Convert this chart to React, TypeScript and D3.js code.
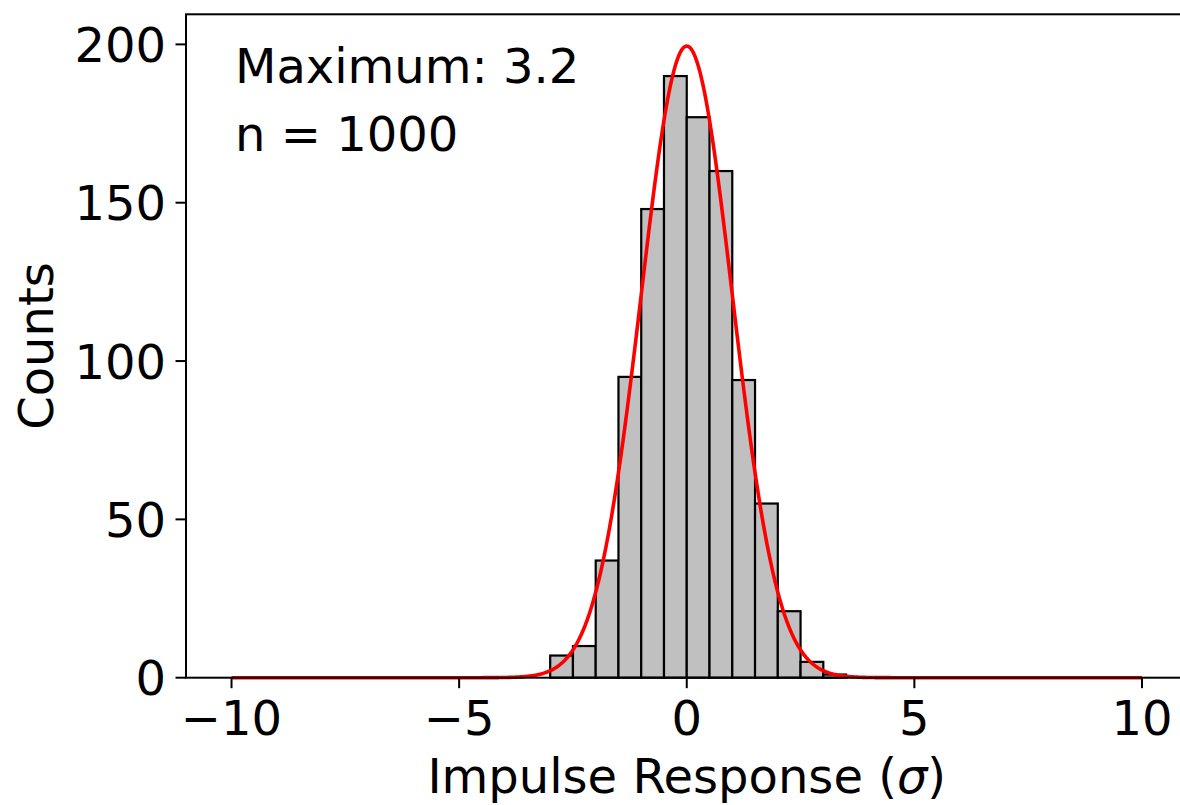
import React from "react";
import * as d3 from "d3";

// Histogram data (bin edges start at -3, width 0.5)
const binStart = -3;
const binWidth = 0.5;
const counts = [7, 10, 37, 95, 148, 190, 177, 160, 94, 55, 21, 5, 1];

// Gaussian fit parameters
const fitMean = 0;
const fitSigma = 1;
const nSamples = 1000;
const maximumValue = 3.2;
const curveRange = [-10, 10];

const xTicks = [-10, -5, 0, 5, 10];
const yTicks = [0, 50, 100, 150, 200];

const W = 1180;
const H = 805;
const FONT = "'DejaVu Sans', sans-serif";
const FS = 48;

export default function App() {
  const x = d3.scaleLinear().domain([-11, 11]).range([186, 1187.5]);
  const y = d3.scaleLinear().domain([0, 209.5]).range([677.7, 14.3]);

  const amp = (nSamples * binWidth) / (fitSigma * Math.sqrt(2 * Math.PI));
  const xs = d3.range(0, 1001).map((i) => curveRange[0] + ((curveRange[1] - curveRange[0]) * i) / 1000);
  const curvePts: [number, number][] = xs.map((v) => [
    v,
    amp * Math.exp(-0.5 * ((v - fitMean) / fitSigma) ** 2),
  ]);
  const line = d3
    .line<[number, number]>()
    .x((d) => x(d[0]))
    .y((d) => y(d[1]));

  const fmt = (v: number) => (v < 0 ? "\u2212" + Math.abs(v) : String(v));
  const left = x(-11);
  const right = x(11);
  const top = y(209.5);
  const bottom = y(0);

  return (
    <svg
      width={W}
      height={H}
      style={{ position: "absolute", left: 0, top: 0, background: "#fff" }}
      fontFamily={FONT}
    >
      <rect x={0} y={0} width={W} height={H} fill="#fff" />
      {counts.map((c, i) => {
        const x0 = binStart + i * binWidth;
        return (
          <rect
            key={i}
            x={x(x0)}
            y={y(c)}
            width={x(x0 + binWidth) - x(x0)}
            height={y(0) - y(c)}
            fill="#c0c0c0"
            stroke="#000"
            strokeWidth={2.2}
          />
        );
      })}
      <path d={line(curvePts) || ""} fill="none" stroke="#ff0000" strokeWidth={3.6} strokeLinejoin="round" />

      {/* spines */}
      <rect x={left} y={top} width={right - left} height={bottom - top} fill="none" stroke="#000" strokeWidth={2} />

      {/* x ticks */}
      {xTicks.map((t) => (
        <g key={t}>
          <line x1={x(t)} x2={x(t)} y1={bottom} y2={bottom + 10.5} stroke="#000" strokeWidth={2} />
          <text x={x(t)} y={bottom + 57} textAnchor="middle" fontSize={FS}>
            {fmt(t)}
          </text>
        </g>
      ))}
      {/* y ticks */}
      {yTicks.map((t) => (
        <g key={t}>
          <line x1={left} x2={left - 10.5} y1={y(t)} y2={y(t)} stroke="#000" strokeWidth={2} />
          <text x={left - 20} y={y(t) + 17.5} textAnchor="end" fontSize={FS}>
            {fmt(t)}
          </text>
        </g>
      ))}

      <text x={(left + right) / 2} y={793} textAnchor="middle" fontSize={FS}>
        Impulse Response (<tspan fontStyle="italic">σ</tspan>)
      </text>
      <text
        transform={`translate(52.5, ${(top + bottom) / 2}) rotate(-90)`}
        textAnchor="middle"
        fontSize={FS}
      >
        Counts
      </text>

      <text x={235} y={83.3} fontSize={FS}>
        Maximum: {maximumValue}
      </text>
      <text x={235} y={150.7} fontSize={FS}>
        n = {nSamples}
      </text>
    </svg>
  );
}
